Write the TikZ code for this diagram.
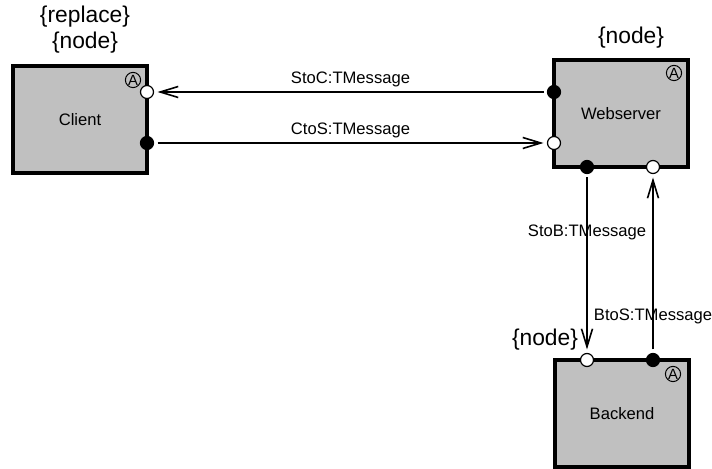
\documentclass[tikz,border=0pt]{standalone}
\usepackage{fontspec}
\setmainfont{Liberation Sans}
\usetikzlibrary{arrows.meta}
\definecolor{boxgray}{RGB}{192,192,192}
\begin{document}
\begin{tikzpicture}[x=0.5pt,y=-0.5pt,>={Straight Barb[length=9pt,width=5.5pt]},every node/.style={font=\fontsize{8.3}{10}\selectfont},
  comp/.style={draw,line width=1.8pt,fill=boxgray,minimum width=67pt,minimum height=53.5pt,inner sep=0pt},
  portdot/.style={circle,draw,line width=0.6pt,minimum size=6.5pt,inner sep=0pt,outer sep=2pt},
  portout/.style={portdot,fill=black},portin/.style={portdot,fill=white},
  akind/.style={circle,draw,line width=0.5pt,minimum size=7.6pt,inner sep=0pt,font=\fontsize{7.4}{8}\selectfont},
  stereo/.style={font=\fontsize{11.4}{13}\selectfont,align=center},
  msg/.style={->,line width=0.8pt}]
\useasboundingbox (0,0) rectangle (712,469);
% components
\node[comp] (client) at (80,119.5){Client};\node[comp] (web) at (621,113.5){Webserver};\node[comp] (back) at (622,413.5){Backend};
\node[akind] (clientA) at (133,80){A};\node[akind] (webA) at (674,73){A};\node[akind] (backA) at (673,374){A};
\node[stereo] (clientTag) at (85,30){\{replace\}\\\{node\}};\node[stereo] (webTag) at (631,38){\{node\}};\node[stereo] (backTag) at (545,340){\{node\}};
% ports
\node[portin] (clientIn) at (147,92){};\node[portout] (clientOut) at (147,143){};
\node[portout] (webOut) at (554,92){};\node[portin] (webIn) at (554,143){};
\node[portout] (webDown) at (587,167){};\node[portin] (webUp) at (653,167){};
\node[portin] (backIn) at (587,360){};\node[portout] (backOut) at (653,360){};
% messages
\draw[msg] (webOut)--node[above,inner sep=2pt]{StoC:TMessage}(clientIn);
\draw[msg] (clientOut)--node[above,inner sep=2pt]{CtoS:TMessage}(webIn);
\draw[msg] (webDown)--node[pos=.32]{StoB:TMessage}(backIn);
\draw[msg] (backOut)--node[pos=.19]{BtoS:TMessage}(webUp);
\end{tikzpicture}
\end{document}
